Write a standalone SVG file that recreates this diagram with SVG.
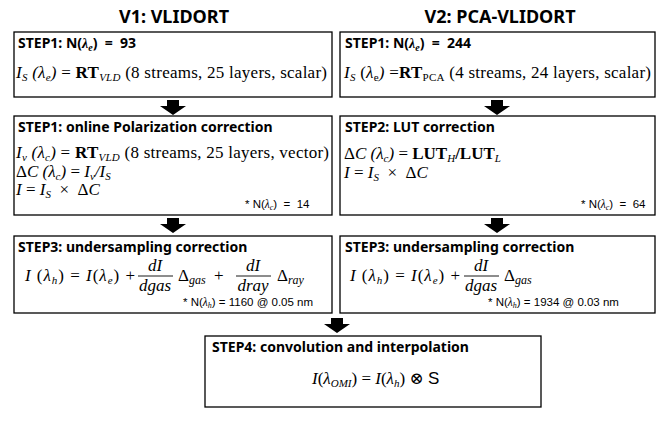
<svg xmlns="http://www.w3.org/2000/svg" width="661" height="422" viewBox="0 0 661 422">
<style>
.box{fill:#fff;stroke:#000;stroke-width:1.3}
.title{font-family:"Noto Sans","Open Sans",sans-serif;font-weight:bold;font-size:18px;fill:#000}
.hd{font-family:"Noto Sans","Open Sans",sans-serif;font-weight:bold;font-size:14px;fill:#000}
.m{font-family:"Liberation Serif","DejaVu Serif",serif;font-size:17px;fill:#000}
.i{font-style:italic}
.b{font-weight:bold}
.fn{font-family:"Liberation Sans",Arial,sans-serif;font-size:11.5px;fill:#000}
.fl{stroke:#000;stroke-width:0.9}
.ar{fill:#000}
</style>
<defs>
<polygon id="arrow" points="-6,0 6,0 6,6 13,6 0,15 -13,6 -6,6"/>
</defs>
<text class="title" x="174" y="23" text-anchor="middle">V1: VLIDORT</text>
<text class="title" x="500" y="23" text-anchor="middle">V2: PCA-VLIDORT</text>

<g id="v1-step1">
<rect class="box" x="14" y="32" width="318" height="65"/>
<text class="hd" x="18" y="48">STEP1: N(<tspan class="i" font-family="Liberation Serif,serif">λ</tspan><tspan class="i" font-size="10" dy="3" font-family="Liberation Serif,serif">e</tspan><tspan dy="-3">)&#160;&#160;=&#160;&#160;93</tspan></text>
<text class="m" x="16" y="78" textLength="311" lengthAdjust="spacing"><tspan class="i">I</tspan><tspan class="i" font-size="11" dy="2.5">S</tspan><tspan dy="-2.5" class="i"> (λ</tspan><tspan class="i" font-size="11" dy="2.5">e</tspan><tspan dy="-2.5" class="i">)</tspan> = <tspan class="b">RT</tspan><tspan class="i" font-size="11" dy="2.5">VLD</tspan><tspan dy="-2.5"> (8 streams, 25 layers, scalar)</tspan></text>
</g>

<g id="v2-step1">
<rect class="box" x="340" y="32" width="315" height="65"/>
<text class="hd" x="345" y="48">STEP1: N(<tspan class="i" font-family="Liberation Serif,serif">λ</tspan><tspan class="i" font-size="10" dy="3" font-family="Liberation Serif,serif">e</tspan><tspan dy="-3">)&#160;&#160;=&#160;&#160;244</tspan></text>
<text class="m" x="344" y="78" textLength="307" lengthAdjust="spacing"><tspan class="i">I</tspan><tspan class="i" font-size="11" dy="2.5">S</tspan><tspan dy="-2.5"> (</tspan><tspan class="i">λ</tspan><tspan font-size="11" dy="2.5">e</tspan><tspan dy="-2.5" class="i">)</tspan> =<tspan class="b">RT</tspan><tspan font-size="11" dy="2.5">PCA</tspan><tspan dy="-2.5"> (4 streams, 24 layers, scalar)</tspan></text>
</g>

<g id="v1-step2">
<rect class="box" x="14" y="116" width="318" height="99"/>
<text class="hd" x="18" y="132">STEP1: online Polarization correction</text>
<text class="m" x="16" y="158" textLength="313" lengthAdjust="spacing"><tspan class="i">I</tspan><tspan class="i" font-size="11" dy="2.5">v</tspan><tspan dy="-2.5" class="i"> (λ</tspan><tspan class="i" font-size="11" dy="2.5">c</tspan><tspan dy="-2.5" class="i">)</tspan> = <tspan class="b">RT</tspan><tspan class="i" font-size="11" dy="2.5">VLD</tspan><tspan dy="-2.5"> (8 streams, 25 layers, vector)</tspan></text>
<text class="m" x="16" y="177">Δ<tspan class="i">C</tspan><tspan class="i"> (λ</tspan><tspan class="i" font-size="11" dy="2.5">c</tspan><tspan dy="-2.5" class="i">)</tspan> = <tspan class="i">I</tspan><tspan class="i" font-size="11" dy="2.5">v</tspan><tspan dy="-2.5" class="i">/I</tspan><tspan class="i" font-size="11" dy="2.5">S</tspan></text>
<text class="m" x="16" y="195"><tspan class="i">I</tspan> = <tspan class="i">I</tspan><tspan class="i" font-size="11" dy="2.5">S</tspan><tspan dy="-2.5">&#160;&#160;×&#160;&#160;Δ</tspan><tspan class="i">C</tspan></text>
<text class="fn" x="245" y="208">* N(<tspan font-style="italic" font-family="Liberation Serif,serif">λ</tspan><tspan font-size="8" dy="2" font-style="italic" font-family="Liberation Serif,serif">c</tspan><tspan dy="-2">)&#160;&#160;=&#160;&#160;14</tspan></text>
</g>

<g id="v2-step2">
<rect class="box" x="340" y="116" width="315" height="99"/>
<text class="hd" x="345" y="132">STEP2: LUT correction</text>
<text class="m" x="344" y="159">Δ<tspan class="i">C</tspan><tspan class="i"> (λ</tspan><tspan class="i" font-size="11" dy="2.5">c</tspan><tspan dy="-2.5" class="i">)</tspan> = <tspan class="b">LUT</tspan><tspan class="i" font-size="11" dy="2.5">H</tspan><tspan dy="-2.5" class="b">/LUT</tspan><tspan class="i" font-size="11" dy="2.5">L</tspan></text>
<text class="m" x="344" y="178"><tspan class="i">I</tspan> = <tspan class="i">I</tspan><tspan class="i" font-size="11" dy="2.5">S</tspan><tspan dy="-2.5">&#160;&#160;×&#160;&#160;Δ</tspan><tspan class="i">C</tspan></text>
<text class="fn" x="581" y="208">* N(<tspan font-style="italic" font-family="Liberation Serif,serif">λ</tspan><tspan font-size="8" dy="2" font-style="italic" font-family="Liberation Serif,serif">c</tspan><tspan dy="-2">)&#160;&#160;=&#160;&#160;64</tspan></text>
</g>

<g id="v1-step3">
<rect class="box" x="14" y="236" width="318" height="77"/>
<text class="hd" x="18" y="252">STEP3: undersampling correction</text>
<text class="m" x="25" y="281" textLength="110" lengthAdjust="spacing"><tspan class="i">I</tspan> (<tspan class="i">λ</tspan><tspan class="i" font-size="11" dy="2.5">h</tspan><tspan dy="-2.5">) = </tspan><tspan class="i">I</tspan>(<tspan class="i">λ</tspan><tspan class="i" font-size="11" dy="2.5">e</tspan><tspan dy="-2.5">) +</tspan></text>
<text class="m i" x="155" y="271" text-anchor="middle">dI</text>
<line class="fl" x1="138" y1="276" x2="173" y2="276"/>
<text class="m i" x="155" y="291" text-anchor="middle">dgas</text>
<text class="m" x="178" y="281">Δ<tspan class="i" font-size="12" dy="2.5">gas</tspan><tspan dy="-2.5">&#160;&#160;+</tspan></text>
<text class="m i" x="253" y="271" text-anchor="middle">dI</text>
<line class="fl" x1="236" y1="276" x2="271" y2="276"/>
<text class="m i" x="253" y="291" text-anchor="middle">dray</text>
<text class="m" x="277" y="281">Δ<tspan class="i" font-size="12" dy="2.5">ray</tspan></text>
<text class="fn" x="183" y="306">* N(<tspan font-style="italic" font-family="Liberation Serif,serif">λ</tspan><tspan font-size="8" dy="2" font-style="italic" font-family="Liberation Serif,serif">h</tspan><tspan dy="-2">)&#160;=&#160;1160&#160;@&#160;0.05&#160;nm</tspan></text>
</g>

<g id="v2-step3">
<rect class="box" x="340" y="236" width="315" height="77"/>
<text class="hd" x="345" y="252">STEP3: undersampling correction</text>
<text class="m" x="350" y="281" textLength="110" lengthAdjust="spacing"><tspan class="i">I</tspan> (<tspan class="i">λ</tspan><tspan class="i" font-size="11" dy="2.5">h</tspan><tspan dy="-2.5">) = </tspan><tspan class="i">I</tspan>(<tspan class="i">λ</tspan><tspan class="i" font-size="11" dy="2.5">e</tspan><tspan dy="-2.5">) +</tspan></text>
<text class="m i" x="481" y="271" text-anchor="middle">dI</text>
<line class="fl" x1="464" y1="276" x2="499" y2="276"/>
<text class="m i" x="481" y="291" text-anchor="middle">dgas</text>
<text class="m" x="504" y="281">Δ<tspan class="i" font-size="12" dy="2.5">gas</tspan></text>
<text class="fn" x="488" y="306">* N(<tspan font-style="italic" font-family="Liberation Serif,serif">λ</tspan><tspan font-size="8" dy="2" font-style="italic" font-family="Liberation Serif,serif">h</tspan><tspan dy="-2">)&#160;=&#160;1934&#160;@&#160;0.03&#160;nm</tspan></text>
</g>

<g id="step4">
<rect class="box" x="205" y="336" width="336" height="71"/>
<text class="hd" x="212" y="352">STEP4: convolution and interpolation</text>
<text class="m" x="312" y="384"><tspan class="i">I</tspan>(<tspan class="i">λ</tspan><tspan class="i" font-size="11" dy="2.5">OMI</tspan><tspan dy="-2.5">) = </tspan><tspan class="i">I</tspan>(<tspan class="i">λ</tspan><tspan class="i" font-size="11" dy="2.5">h</tspan><tspan dy="-2.5">) ⊗ </tspan><tspan font-family="Liberation Sans,sans-serif">S</tspan></text>
</g>

<g id="connectors">
<use href="#arrow" class="ar" x="173" y="100"/>
<use href="#arrow" class="ar" x="497" y="100"/>
<use href="#arrow" class="ar" x="173" y="218"/>
<use href="#arrow" class="ar" x="497" y="218"/>
<use href="#arrow" class="ar" x="337" y="318"/>
</g>
</svg>
